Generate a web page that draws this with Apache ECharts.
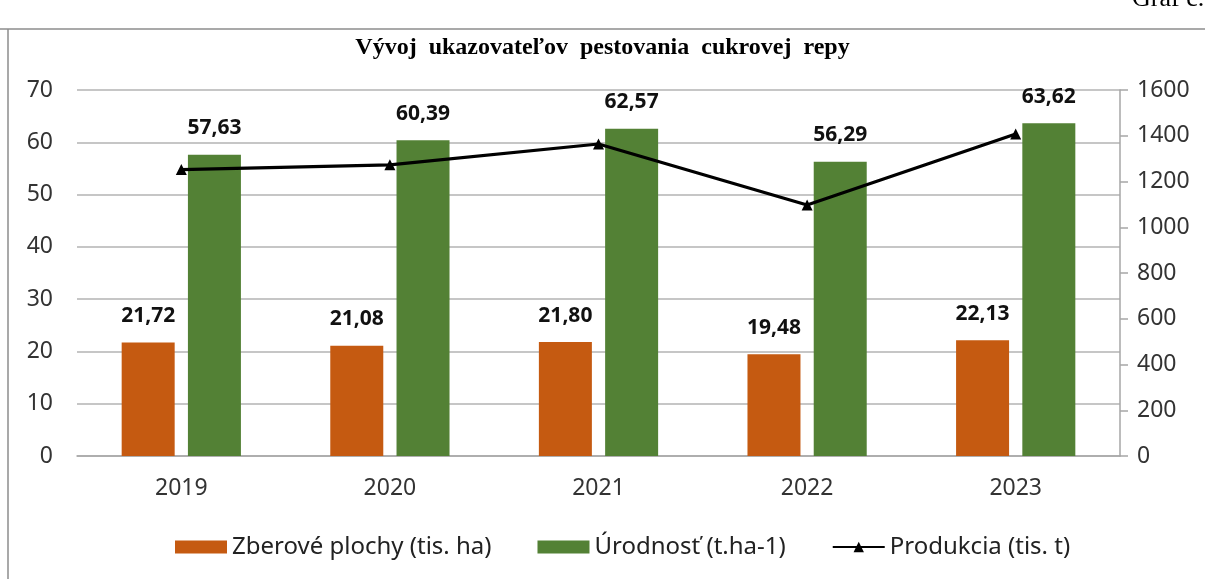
<!DOCTYPE html>
<html>
<head>
<meta charset="utf-8">
<script src="https://cdn.jsdelivr.net/npm/echarts@6/dist/echarts.min.js"></script>
<style>
  html, body { margin: 0; padding: 0; background: #fff; }
  #chart { width: 1205px; height: 579px; }
</style>
</head>
<body>
<div id="chart"></div>
<script>
const years = ['2019', '2020', '2021', '2022', '2023']
const plochy = [21.72, 21.08, 21.80, 19.48, 22.13]
const urodnost = [57.63, 60.39, 62.57, 56.29, 63.62]
const produkcia = [1252, 1273, 1364, 1097, 1408]

const font = '"Noto Sans", sans-serif'
const serif = '"Liberation Serif", serif'
const fmt = p => p.value.toFixed(2).replace('.', ',')

const chart = echarts.init(document.getElementById('chart'))
chart.setOption({
  animation: false,
  textStyle: { fontFamily: font },
  title: [
    {
      text: 'Vývoj  ukazovateľov  pestovania  cukrovej  repy',
      left: 'center',
      top: 31,
      textStyle: { fontFamily: serif, fontSize: 24, fontWeight: 'bold', color: '#000' }
    },
    {
      text: 'Graf č.',
      left: 1132,
      top: -14,
      padding: 0,
      textStyle: { fontFamily: serif, fontSize: 26, fontWeight: 'normal', color: '#000' }
    }
  ],
  graphic: [
    { type: 'line', shape: { x1: 0, y1: 29, x2: 1205, y2: 29 }, style: { stroke: '#8c8c8c', lineWidth: 1.5 } },
    { type: 'line', shape: { x1: 8, y1: 29, x2: 8, y2: 579 }, style: { stroke: '#8c8c8c', lineWidth: 1.5 } }
  ],
  grid: { left: 77, right: 85, top: 90, bottom: 123 },
  legend: {
    bottom: 15,
    left: 170,
    itemWidth: 52,
    itemHeight: 13,
    itemGap: 46,
    textStyle: { fontSize: 24, color: '#222' },
    data: [
      { name: 'Zberové plochy (tis. ha)', icon: 'rect' },
      { name: 'Úrodnosť (t.ha-1)', icon: 'rect' },
      { name: 'Produkcia (tis. t)' }
    ]
  },
  xAxis: {
    type: 'category',
    data: years,
    axisLine: { lineStyle: { color: '#a6a6a6', width: 1.5 } },
    axisTick: { show: false },
    axisLabel: { fontSize: 23, color: '#333', margin: 21 }
  },
  yAxis: [
    {
      type: 'value', min: 0, max: 70, interval: 10,
      axisLine: { show: false },
      axisTick: { show: false },
      axisLabel: { fontSize: 23, color: '#333', margin: 24 },
      splitLine: { lineStyle: { color: '#b3b3b3', width: 1.5 } }
    },
    {
      type: 'value', min: 0, max: 1600, interval: 200,
      axisLine: { show: true, lineStyle: { color: '#a6a6a6', width: 1.5 } },
      axisTick: { show: true, length: 8, lineStyle: { color: '#a6a6a6', width: 1.5 } },
      axisLabel: { fontSize: 23, color: '#333', margin: 17, formatter: v => String(v) },
      splitLine: { show: false }
    }
  ],
  series: [
    {
      name: 'Zberové plochy (tis. ha)',
      type: 'bar',
      data: plochy,
      barWidth: 53,
      barGap: '25%',
      itemStyle: { color: '#c55a11' },
      label: { show: true, position: 'top', distance: 16, fontSize: 21, fontWeight: 'bold', color: '#111', formatter: fmt }
    },
    {
      name: 'Úrodnosť (t.ha-1)',
      type: 'bar',
      data: urodnost,
      barWidth: 53,
      itemStyle: { color: '#538135' },
      label: { show: true, position: 'top', distance: 16, fontSize: 21, fontWeight: 'bold', color: '#111', formatter: fmt }
    },
    {
      name: 'Produkcia (tis. t)',
      type: 'line',
      yAxisIndex: 1,
      data: produkcia,
      symbol: 'triangle',
      symbolSize: 11,
      lineStyle: { color: '#000', width: 3.2 },
      itemStyle: { color: '#000' }
    }
  ]
})
</script>
</body>
</html>
